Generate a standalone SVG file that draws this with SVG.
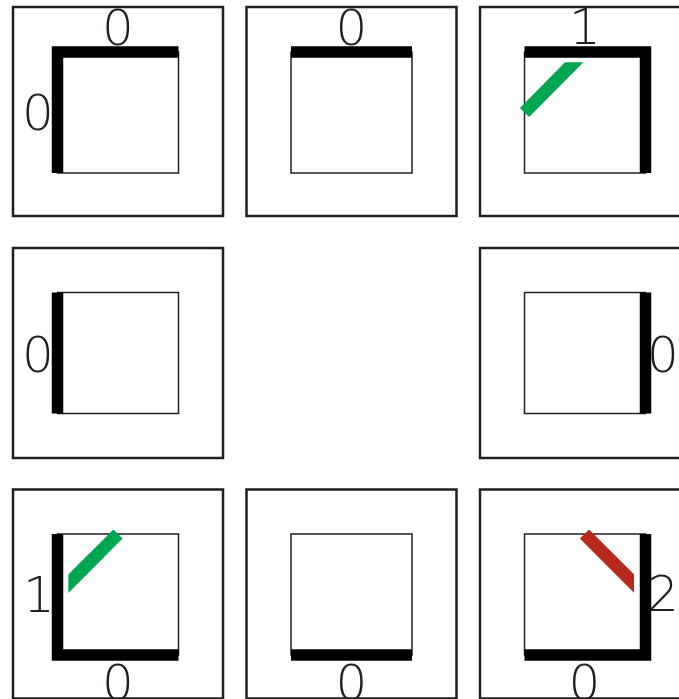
<svg xmlns="http://www.w3.org/2000/svg" width="679" height="699" viewBox="0 0 679 699">
<style>
.outer{fill:#fff;stroke:#231f20;stroke-width:2.5}
.inner{fill:#fff;stroke:#231f20;stroke-width:1.5}
.bar{fill:none;stroke:#000;stroke-width:11.5;stroke-linecap:butt;stroke-linejoin:miter}
.lbl{font-family:"DejaVu Sans","Liberation Sans",sans-serif;font-weight:200;font-size:50px;fill:#231f20;text-anchor:middle}
.green{fill:#00a651}
.red{fill:#b52a1c}
</style>
<rect width="679" height="699" fill="#fff"/>
<g id="tile-1">
<rect class="outer" x="13" y="7" width="210" height="209"/>
<rect class="inner" x="57.5" y="52" width="121" height="121"/>
<path class="bar" d="M57.5,173 L57.5,52 L178.5,52"/>
<text class="lbl" x="118" y="45">0</text>
<text class="lbl" x="38" y="130">0</text>
</g>
<g id="tile-2">
<rect class="outer" x="246.5" y="7" width="210" height="209"/>
<rect class="inner" x="291" y="52" width="121" height="121"/>
<path class="bar" d="M291,52 L412,52"/>
<text class="lbl" x="351.5" y="45">0</text>
</g>
<g id="tile-3">
<rect class="outer" x="480" y="7" width="210" height="209"/>
<rect class="inner" x="524.5" y="52" width="121" height="121"/>
<path class="bar" d="M524.5,52 L645.5,52 L645.5,173"/>
<polygon class="green" points="519.9,107.9 529.1,117.1 583.4,62.3 565,62.3"/>
<text class="lbl" x="585" y="44">1</text>
</g>
<g id="tile-4">
<rect class="outer" x="13" y="248" width="210" height="210"/>
<rect class="inner" x="57.5" y="292.5" width="121" height="121"/>
<path class="bar" d="M57.5,292.5 L57.5,413.5"/>
<text class="lbl" x="38" y="372">0</text>
</g>
<g id="tile-6">
<rect class="outer" x="480" y="248" width="210" height="210"/>
<rect class="inner" x="524.5" y="292.5" width="121" height="121"/>
<path class="bar" d="M645.5,292.5 L645.5,413.5"/>
<text class="lbl" x="663" y="372">0</text>
</g>
<g id="tile-7">
<rect class="outer" x="13" y="489.5" width="210" height="209"/>
<rect class="inner" x="57.5" y="534" width="121" height="121"/>
<path class="bar" d="M57.5,534 L57.5,655 L178.5,655"/>
<polygon class="green" points="113.4,529.4 122.6,538.6 68.3,592.9 68.3,574.5"/>
<text class="lbl" x="39" y="612">1</text>
<text class="lbl" x="118" y="700">0</text>
</g>
<g id="tile-8">
<rect class="outer" x="246.5" y="489.5" width="210" height="209"/>
<rect class="inner" x="291" y="534" width="121" height="121"/>
<path class="bar" d="M291,655 L412,655"/>
<text class="lbl" x="351.5" y="700">0</text>
</g>
<g id="tile-9">
<rect class="outer" x="480" y="489.5" width="210" height="209"/>
<rect class="inner" x="524.5" y="534" width="121" height="121"/>
<path class="bar" d="M524.5,655 L645.5,655 L645.5,534"/>
<polygon class="red" points="579.9,538.6 589.1,529.4 634,574.3 634,592.7"/>
<text class="lbl" x="663" y="611">2</text>
<text class="lbl" x="584.5" y="700">0</text>
</g>
<g id="connectors"/>
</svg>
